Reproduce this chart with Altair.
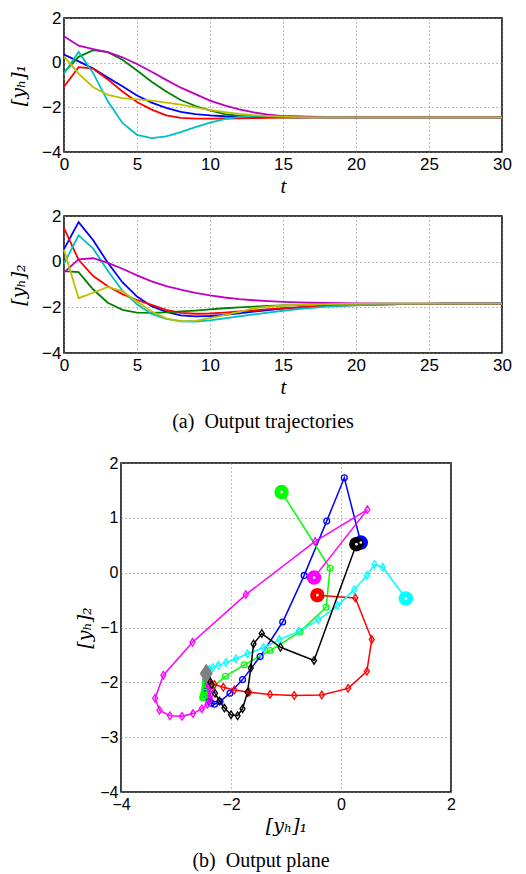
import altair as alt
import pandas as pd

# ---------------- data ----------------
t = list(range(31))
series = ["s1", "s2", "s3", "s4", "s5", "s6"]

# [y_h]_1 trajectories
y1_s1 = [0.36, 0.06, -0.26, -0.67, -1.06, -1.47, -1.79, -2.02, -2.20, -2.30, -2.36, -2.40, -2.42, -2.43, -2.44, -2.44,
         -2.45, -2.45, -2.45, -2.45, -2.45, -2.45, -2.45, -2.45, -2.45, -2.45, -2.45, -2.45, -2.45, -2.45, -2.45]
y1_s2 = [-1.08, -0.20, -0.27, -0.75, -1.29, -1.76, -2.10, -2.36, -2.47, -2.51, -2.51, -2.50, -2.49, -2.48, -2.47, -2.46,
         -2.46, -2.45, -2.45, -2.45, -2.45, -2.45, -2.45, -2.45, -2.45, -2.45, -2.45, -2.45, -2.45, -2.45, -2.45]
y1_s3 = [-0.43, 0.26, 0.56, 0.47, 0.13, -0.35, -0.85, -1.29, -1.67, -1.94, -2.14, -2.30, -2.38, -2.42, -2.44, -2.45,
         -2.45, -2.45, -2.45, -2.45, -2.45, -2.45, -2.45, -2.45, -2.45, -2.45, -2.45, -2.45, -2.45, -2.45, -2.45]
y1_s4 = [-0.49, 0.48, -0.47, -1.73, -2.70, -3.23, -3.38, -3.30, -3.11, -2.89, -2.69, -2.53, -2.43, -2.38, -2.37, -2.38,
         -2.40, -2.42, -2.43, -2.44, -2.45, -2.45, -2.45, -2.45, -2.45, -2.45, -2.45, -2.45, -2.45, -2.45, -2.45]
y1_s5 = [1.18, 0.76, 0.61, 0.47, 0.24, -0.06, -0.41, -0.77, -1.12, -1.41, -1.70, -1.91, -2.09, -2.23, -2.33, -2.39,
         -2.42, -2.44, -2.45, -2.45, -2.45, -2.45, -2.45, -2.45, -2.45, -2.45, -2.45, -2.45, -2.45, -2.45, -2.45]
y1_s6 = [0.28, -0.49, -1.10, -1.44, -1.59, -1.64, -1.70, -1.79, -1.88, -2.00, -2.12, -2.21, -2.29, -2.35, -2.39, -2.42,
         -2.44, -2.45, -2.45, -2.45, -2.45, -2.45, -2.45, -2.45, -2.45, -2.45, -2.45, -2.45, -2.45, -2.45, -2.45]

# [y_h]_2 trajectories
y2_s1 = [0.55, 1.73, 0.94, -0.05, -0.90, -1.53, -1.95, -2.20, -2.35, -2.40, -2.38, -2.33, -2.26, -2.19, -2.12, -2.06,
         -2.01, -1.97, -1.94, -1.91, -1.89, -1.88, -1.87, -1.86, -1.85, -1.85, -1.84, -1.84, -1.84, -1.84, -1.84]
y2_s2 = [1.47, 0.08, -0.63, -1.08, -1.42, -1.68, -1.89, -2.11, -2.24, -2.28, -2.27, -2.23, -2.18, -2.13, -2.08, -2.04,
         -2.00, -1.97, -1.94, -1.92, -1.90, -1.88, -1.87, -1.86, -1.85, -1.85, -1.84, -1.84, -1.84, -1.84, -1.84]
y2_s3 = [-0.41, -0.46, -1.22, -1.80, -2.11, -2.23, -2.24, -2.22, -2.18, -2.14, -2.09, -2.04, -2.00, -1.97, -1.94, -1.92,
         -1.90, -1.88, -1.87, -1.86, -1.85, -1.85, -1.84, -1.84, -1.84, -1.84, -1.84, -1.84, -1.84, -1.84, -1.84]
y2_s4 = [-0.09, 1.15, 0.57, -0.40, -1.27, -1.87, -2.29, -2.51, -2.61, -2.62, -2.57, -2.48, -2.40, -2.31, -2.23, -2.15,
         -2.08, -2.02, -1.97, -1.94, -1.91, -1.89, -1.87, -1.86, -1.85, -1.85, -1.84, -1.84, -1.84, -1.84, -1.84]
y2_s5 = [-0.47, 0.10, 0.15, -0.05, -0.31, -0.60, -0.86, -1.07, -1.22, -1.37, -1.48, -1.57, -1.64, -1.69, -1.73, -1.76,
         -1.78, -1.80, -1.81, -1.82, -1.83, -1.83, -1.84, -1.84, -1.84, -1.84, -1.84, -1.84, -1.84, -1.84, -1.84]
y2_s6 = [0.52, -1.60, -1.36, -1.11, -1.30, -1.74, -2.18, -2.48, -2.61, -2.59, -2.47, -2.34, -2.20, -2.04, -1.97, -1.92,
         -1.89, -1.87, -1.86, -1.85, -1.85, -1.84, -1.84, -1.84, -1.84, -1.84, -1.84, -1.84, -1.84, -1.84, -1.84]

eq_y1 = [-2.45]
eq_y2 = [-1.84]

# colours per series (s1..s6)
top_colors = ["#0000FF", "#FF0000", "#008000", "#00BFBF", "#BF00BF", "#BFBF00"]
plane_colors = ["#0000FF", "#00FF00", "#FF0000", "#FF00FF", "#00FFFF", "#000000"]
DIAMOND = "M0,-1.3L0.85,0L0,1.3L-0.85,0Z"
plane_shapes = ["circle", "circle", DIAMOND, DIAMOND, DIAMOND, DIAMOND]

t_ticks = [0, 5, 10, 15, 20, 25, 30]
ts_yticks = [-4, -2, 0, 2]
pl_xticks = [-4, -2, 0, 2]
pl_yticks = [-4, -3, -2, -1, 0, 1, 2]

y1_all = [y1_s1, y1_s2, y1_s3, y1_s4, y1_s5, y1_s6]
y2_all = [y2_s1, y2_s2, y2_s3, y2_s4, y2_s5, y2_s6]

rows = []
for s, a, b in zip(series, y1_all, y2_all):
    for i, tt in enumerate(t):
        rows.append({"series": s, "t": tt, "y1": a[i], "y2": b[i]})
df = pd.DataFrame(rows)
start = df[df["t"] == 0]
eq = pd.DataFrame({"y1": eq_y1, "y2": eq_y2})

SANS = "Liberation Sans"
SERIF = "Liberation Serif"
MATH = "DejaVu Serif"
GRID = dict(grid=True, gridDash=[1, 3], gridColor="#7a7a7a", gridWidth=1, domain=False, ticks=False,
            labelFont=SANS, labelColor="black", labelFlush=False, titleColor="black", titleFontWeight="normal")


def ts_panel(field, ytitle, height, caption=None):
    x = alt.X("t:Q", scale=alt.Scale(domain=[0, 30], nice=False),
              axis=alt.Axis(values=t_ticks, title="t", titleFont=SERIF, titleFontStyle="italic", titleFontSize=21,
                            labelFontSize=17, labelPadding=4, titlePadding=3, **GRID))
    y = alt.Y(field + ":Q", scale=alt.Scale(domain=[-4, 2], nice=False),
              axis=alt.Axis(values=ts_yticks, title=ytitle, titleFont=MATH, titleFontStyle="italic",
                            titleFontSize=19, minExtent=28,
                            labelFontSize=17, labelPadding=3, titlePadding=8, **GRID))
    c = alt.Chart(df).mark_line(strokeWidth=1.8).encode(
        x=x, y=y,
        color=alt.Color("series:N", scale=alt.Scale(domain=series, range=top_colors), legend=None),
        order="t:Q")
    props = dict(width=438, height=height)
    if caption:
        props["title"] = alt.TitleParams(caption, orient="bottom", font=SERIF, fontSize=20, fontWeight="normal",
                                         color="black", anchor="middle", dx=-20, offset=15)
    return c.properties(**props)


p1 = ts_panel("y1", "[yₕ]₁", 134)
p2 = ts_panel("y2", "[yₕ]₂", 137, caption="(a)\u00a0 Output trajectories")

px = alt.X("y1:Q", scale=alt.Scale(domain=[-4, 2], nice=False),
           axis=alt.Axis(values=pl_xticks, title="[yₕ]₁", titleFont=MATH, titleFontStyle="italic", titleFontSize=19,
                         labelFontSize=16, labelPadding=4, titlePadding=4, **GRID))
py = alt.Y("y2:Q", scale=alt.Scale(domain=[-4, 2], nice=False),
           axis=alt.Axis(values=pl_yticks, title="[yₕ]₂", titleFont=MATH, titleFontStyle="italic", titleFontSize=19,
                         minExtent=22, labelFontSize=16, labelPadding=3, titlePadding=5, **GRID))
pcolor = alt.Color("series:N", scale=alt.Scale(domain=series, range=plane_colors), legend=None)

lines = alt.Chart(df).mark_line(strokeWidth=1.5).encode(x=px, y=py, color=pcolor, order="t:Q")
pts = alt.Chart(df).mark_point(filled=False, strokeWidth=1.3, opacity=1).encode(
    x=px, y=py, color=pcolor,
    shape=alt.Shape("series:N", scale=alt.Scale(domain=series, range=plane_shapes), legend=None),
    size=alt.value(34))
big = alt.Chart(start).mark_circle(size=210, opacity=1).encode(x=px, y=py, color=pcolor)
dots = alt.Chart(start).mark_circle(size=7, opacity=1, color="white").encode(x=px, y=py)
eqd = alt.Chart(eq).mark_point(shape=DIAMOND, filled=True, size=240, opacity=1, color="#808080").encode(x=px, y=py)

plane = alt.layer(lines, pts, big, dots, eqd).properties(
    width=330, height=329,
    title=alt.TitleParams("(b)\u00a0 Output plane", orient="bottom", font=SERIF, fontSize=20, fontWeight="normal",
                          color="black", anchor="middle", dx=-25, offset=16))

spacer = alt.Chart(pd.DataFrame({"a": [0]})).mark_text(text="").encode(
    x=alt.value(0), y=alt.value(0)).properties(
    width=10, height=10, view=alt.ViewBackground(fill="white", strokeOpacity=0))

row3 = alt.hconcat(spacer, plane, spacing=0)
top = alt.vconcat(p1, p2, spacing=9)

chart = alt.vconcat(top, row3, spacing=21).resolve_scale(
    color="independent", shape="independent"
).properties(
    padding={"left": 0, "top": 0, "right": 0, "bottom": 0}
).configure_view(stroke="black", strokeWidth=1.5)

chart.save("out.html", embed_options={"renderer": "svg", "actions": False})
